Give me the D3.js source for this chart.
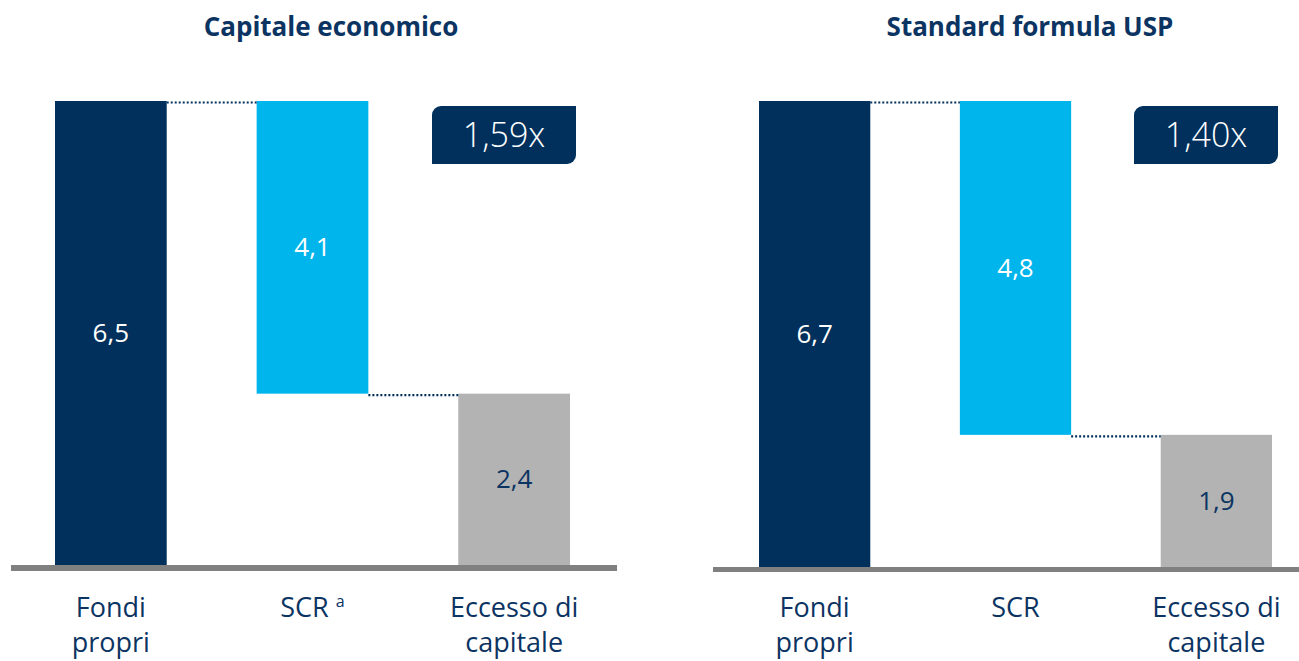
<!DOCTYPE html>
<html>
<head>
<meta charset="utf-8">
<script src="https://cdn.jsdelivr.net/npm/d3@7"></script>
<style>
  html, body { margin: 0; padding: 0; background: #ffffff; }
  svg { display: block; }
</style>
</head>
<body>
<svg id="chart" width="1299" height="661"></svg>
<script>
// ---- Data ----
const categories = ["Fondi propri", "SCR", "Eccesso di capitale"];
const categoryLines = [["Fondi", "propri"], ["SCR"], ["Eccesso di", "capitale"]];
const panelTitles = ["Capitale economico", "Standard formula USP"];
const valuesEconomico = [6.5, 4.1, 2.4];
const valuesUSP = [6.7, 4.8, 1.9];
const ratioLabels = ["1,59x", "1,40x"];
const scrFootnote = ["a", ""];

// ---- Style ----
const NAVY = "#00305b";
const BLUE = "#00b4ec";
const GREY = "#b3b3b3";
const AXIS = "#808080";
const TEXT = "#0c3462";
const FONT = "'Open Sans', 'Noto Sans', sans-serif";

const svg = d3.select("#chart");

const panels = [
  { title: panelTitles[0], values: valuesEconomico, ratio: ratioLabels[0], note: scrFootnote[0],
    x0: 55, x1: 570, top: 101, bottom: 565, axisX0: 11, axisX1: 617, axisW: 6, titleX: 331 },
  { title: panelTitles[1], values: valuesUSP, ratio: ratioLabels[1], note: scrFootnote[1],
    x0: 759, x1: 1272, top: 101, bottom: 567, axisX0: 713, axisX1: 1299, axisW: 5, titleX: 1030 }
];

const fmt = v => d3.format(".1f")(v).replace(".", ",");

panels.forEach(p => {
  const g = svg.append("g");
  const x = d3.scaleBand().domain(categories).range([p.x0, p.x1]).paddingInner(0.446).paddingOuter(0);
  const y = d3.scaleLinear().domain([0, p.values[0]]).range([p.bottom, p.top]);
  const bw = x.bandwidth();

  const v = p.values;
  const bars = [
    { cat: categories[0], lo: 0, hi: v[0], fill: NAVY, tc: "#ffffff", val: v[0] },
    { cat: categories[1], lo: v[0] - v[1], hi: v[0], fill: BLUE, tc: "#ffffff", val: v[1] },
    { cat: categories[2], lo: 0, hi: v[2], fill: GREY, tc: TEXT, val: v[2] }
  ];

  // title
  g.append("text")
    .attr("x", p.titleX).attr("y", 36)
    .attr("text-anchor", "middle")
    .style("font-family", FONT).style("font-weight", 700).style("font-size", "26px")
    .attr("fill", TEXT)
    .text(p.title);

  // bars
  g.selectAll("rect.bar").data(bars).join("rect")
    .attr("class", "bar")
    .attr("x", d => x(d.cat))
    .attr("width", bw)
    .attr("y", d => y(d.hi))
    .attr("height", d => y(d.lo) - y(d.hi))
    .attr("fill", d => d.fill);

  // connectors
  const conns = [
    { from: categories[0], to: categories[1], val: v[0] },
    { from: categories[1], to: categories[2], val: v[0] - v[1] }
  ];
  g.selectAll("line.conn").data(conns).join("line")
    .attr("class", "conn")
    .attr("x1", d => x(d.from) + bw)
    .attr("x2", d => x(d.to))
    .attr("y1", d => y(d.val) + 1.5)
    .attr("y2", d => y(d.val) + 1.5)
    .attr("stroke", NAVY)
    .attr("stroke-width", 2.2)
    .attr("stroke-dasharray", "2,2");

  // value labels
  g.selectAll("text.val").data(bars).join("text")
    .attr("class", "val")
    .attr("x", d => x(d.cat) + bw / 2)
    .attr("y", d => (y(d.lo) + y(d.hi)) / 2)
    .attr("dy", "0.35em")
    .attr("text-anchor", "middle")
    .style("font-family", FONT).style("font-size", "26px")
    .attr("fill", d => d.tc)
    .text(d => fmt(d.val));

  // baseline
  g.append("line")
    .attr("x1", p.axisX0).attr("x2", p.axisX1)
    .attr("y1", p.bottom + p.axisW / 2).attr("y2", p.bottom + p.axisW / 2)
    .attr("stroke", AXIS).attr("stroke-width", p.axisW);

  // category labels
  categories.forEach((c, i) => {
    const t = g.append("text")
      .attr("x", x(c) + bw / 2)
      .attr("y", 617)
      .attr("text-anchor", "middle")
      .style("font-family", FONT).style("font-size", "27px")
      .attr("fill", TEXT);
    categoryLines[i].forEach((line, j) => {
      t.append("tspan").attr("x", x(c) + bw / 2).attr("dy", j === 0 ? 0 : 35).text(line);
    });
    if (i === 1 && p.note) {
      t.select("tspan").text(categoryLines[i][0] + " ");
      t.append("tspan").attr("dy", -10).style("font-size", "16px").text(p.note);
    }
  });

  // ratio box (rounded top-left & bottom-right)
  const bx1 = x(categories[2]) + bw + 6;
  const bw2 = 144, bh = 58, r = 9;
  const bx0 = bx1 - bw2, by0 = 106, by1 = by0 + bh;
  const path = d3.path();
  path.moveTo(bx0 + r, by0);
  path.lineTo(bx1, by0);
  path.lineTo(bx1, by1 - r);
  path.arcTo(bx1, by1, bx1 - r, by1, r);
  path.lineTo(bx0, by1);
  path.lineTo(bx0, by0 + r);
  path.arcTo(bx0, by0, bx0 + r, by0, r);
  path.closePath();
  g.append("path").attr("d", path.toString()).attr("fill", NAVY);
  g.append("text")
    .attr("x", (bx0 + bx1) / 2).attr("y", 147)
    .attr("text-anchor", "middle")
    .style("font-family", FONT).style("font-weight", 300).style("font-size", "34px")
    .attr("fill", "#ffffff")
    .text(p.ratio);
});
</script>
</body>
</html>
